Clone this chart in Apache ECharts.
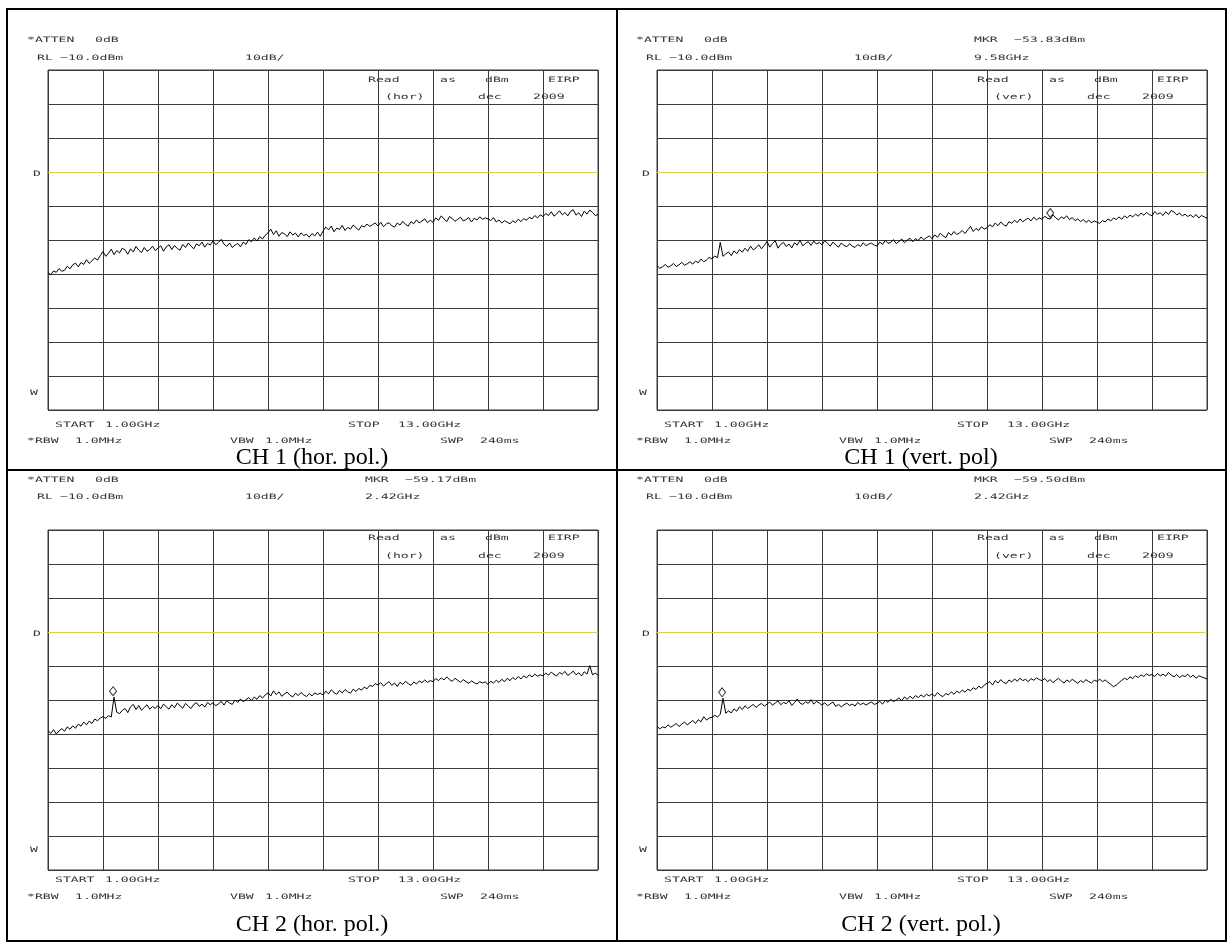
<!DOCTYPE html>
<html><head><meta charset="utf-8">
<script src="https://cdn.jsdelivr.net/npm/echarts/dist/echarts.min.js"></script>
<style>html,body{margin:0;padding:0;background:#fff}#c{width:1231px;height:943px}</style>
</head><body><div id="c"></div>
<script>
// ---------- data ----------
const START_GHZ = 1.0, STOP_GHZ = 13.0, N_POINTS = 201;
const REF_LEVEL = -10, DB_PER_DIV = 10, N_DIV = 10, DISPLAY_LINE = -40;
const RBW = '1.0MHz', VBW = '1.0MHz', SWP = '240ms', ATTEN = '0dB';
const FREQ = Array.from({length: N_POINTS}, (_, k) => +(START_GHZ + k * (STOP_GHZ - START_GHZ) / (N_POINTS - 1)).toFixed(3));
const LEVEL_TICKS = Array.from({length: N_DIV + 1}, (_, k) => REF_LEVEL - (N_DIV - k) * DB_PER_DIV);

const CH1_HOR = [
-69.6,-70.2,-69.1,-69.5,-68.4,-69.2,-68.9,-67.7,-68.5,-67.3,-66.8,-67.9,-66.6,-67.2,-65.8,-66.9,-66.1,-65.3,-65.9,-64.6,
-63.4,-64.8,-63.9,-62.7,-64.3,-63.1,-63.8,-62.4,-62.9,-64.2,-62.6,-63.5,-61.9,-63.0,-63.7,-62.2,-63.3,-62.8,-61.8,-63.1,
-62.4,-61.7,-63.3,-62.0,-61.4,-62.8,-61.6,-62.5,-63.0,-61.3,-62.2,-60.9,-61.8,-62.6,-61.1,-61.7,-60.6,-62.1,-61.0,-61.5,
-60.2,-61.4,-60.7,-59.8,-61.2,-61.9,-60.9,-62.2,-61.5,-61.0,-62.0,-60.6,-61.3,-59.9,-60.5,-59.4,-60.3,-59.0,-59.7,-58.6,
-57.9,-56.8,-58.4,-57.3,-58.9,-57.8,-58.2,-59.0,-57.6,-58.5,-58.0,-59.1,-57.9,-58.7,-58.3,-59.2,-58.1,-58.8,-57.7,-58.9,
-57.4,-56.2,-57.0,-55.9,-57.6,-56.5,-56.9,-55.7,-57.2,-56.3,-56.8,-55.6,-56.4,-57.1,-55.8,-56.2,-55.3,-56.0,-55.5,-55.0,
-55.9,-54.8,-56.1,-55.3,-54.9,-55.8,-56.2,-55.0,-55.6,-54.5,-55.4,-55.9,-54.6,-55.2,-54.1,-55.0,-54.4,-53.8,-54.9,-54.2,
-54.8,-53.5,-54.2,-52.9,-53.8,-54.6,-53.1,-53.7,-54.5,-53.9,-53.3,-54.4,-54.0,-53.4,-54.7,-53.6,-54.1,-53.2,-53.9,-53.5,
-53.8,-54.3,-53.4,-54.7,-54.1,-55.0,-54.3,-54.8,-55.2,-54.4,-54.9,-53.9,-54.6,-53.7,-54.2,-53.3,-53.8,-52.8,-53.5,-52.6,
-53.1,-52.2,-52.8,-51.7,-53.0,-52.3,-51.4,-52.6,-51.9,-52.9,-51.6,-51.1,-52.7,-52.0,-53.1,-51.5,-52.4,-51.2,-51.9,-52.8,
-52.5];

const CH1_VERT = [
-67.5,-68.3,-67.9,-67.2,-68.0,-67.6,-66.9,-67.8,-67.3,-66.6,-67.4,-67.0,-66.4,-67.1,-66.2,-66.7,-65.6,-66.4,-65.9,-65.1,
-65.6,-64.7,-65.2,-60.7,-64.8,-64.1,-63.5,-64.6,-63.2,-64.0,-62.8,-63.6,-62.4,-63.3,-61.8,-62.9,-62.3,-61.4,-62.6,-61.6,
-60.4,-62.1,-61.0,-60.2,-62.4,-61.3,-60.7,-61.9,-61.2,-62.3,-60.8,-61.5,-60.1,-61.7,-61.0,-60.5,-61.6,-60.3,-61.2,-60.7,
-61.4,-60.2,-61.0,-61.8,-60.6,-61.5,-62.1,-60.9,-61.6,-62.0,-61.1,-61.8,-62.2,-61.3,-61.9,-60.8,-61.7,-61.2,-60.9,-61.5,
-61.8,-60.6,-61.3,-60.1,-61.0,-60.7,-59.9,-61.1,-60.4,-59.7,-60.8,-60.0,-59.5,-60.5,-59.6,-60.2,-59.1,-59.9,-59.3,-58.8,
-59.6,-58.5,-59.2,-58.0,-58.8,-59.3,-57.8,-58.6,-57.5,-58.4,-57.9,-57.2,-58.1,-57.0,-56.0,-57.5,-56.6,-57.2,-56.1,-56.8,
-56.4,-55.5,-56.1,-55.0,-55.8,-54.7,-55.5,-55.9,-54.6,-55.1,-54.2,-54.9,-53.8,-54.6,-54.0,-53.6,-54.4,-53.3,-54.1,-53.5,
-53.9,-53.0,-53.6,-53.83,-52.6,-53.5,-54.1,-53.2,-53.7,-52.9,-54.0,-53.4,-54.3,-53.8,-54.6,-54.0,-54.8,-54.2,-54.9,-54.4,
-54.8,-55.1,-54.3,-54.7,-53.8,-54.4,-53.5,-54.0,-53.2,-53.9,-52.9,-53.5,-52.7,-53.2,-52.4,-53.0,-52.1,-52.7,-51.9,-52.5,
-52.9,-51.6,-52.4,-52.0,-52.8,-51.7,-52.5,-51.3,-51.8,-52.6,-52.1,-52.9,-52.4,-53.1,-52.6,-53.3,-52.5,-53.5,-52.8,-53.2,
-53.6];

const CH2_HOR = [
-69.0,-69.8,-68.7,-70.0,-69.1,-68.4,-69.2,-67.9,-68.6,-67.6,-68.3,-67.1,-67.7,-66.5,-67.3,-66.2,-66.9,-65.6,-66.1,-65.3,
-64.9,-65.4,-64.6,-65.0,-59.17,-63.6,-64.0,-63.1,-62.5,-63.7,-62.0,-61.3,-62.8,-61.6,-63.0,-62.2,-61.4,-62.7,-61.9,-62.5,
-61.6,-62.6,-61.2,-62.0,-62.7,-61.4,-62.3,-60.9,-61.7,-62.4,-61.0,-61.8,-62.5,-61.3,-60.8,-61.9,-61.2,-62.1,-60.7,-61.4,
-60.8,-61.7,-61.1,-60.4,-61.5,-60.2,-60.9,-61.3,-60.0,-60.7,-59.7,-60.5,-59.9,-59.3,-60.2,-59.1,-59.8,-58.7,-59.4,-58.5,
-57.9,-58.8,-57.3,-58.4,-57.6,-58.9,-58.2,-57.7,-58.6,-59.1,-58.0,-58.7,-57.8,-58.5,-59.0,-58.1,-58.8,-57.9,-58.4,-58.0,
-58.5,-57.4,-58.2,-57.0,-57.8,-58.3,-57.2,-57.9,-56.9,-57.6,-58.0,-56.8,-57.5,-56.6,-57.1,-56.2,-56.7,-55.7,-56.0,-55.2,
-55.6,-54.9,-55.9,-55.2,-54.6,-55.7,-55.0,-56.0,-54.8,-55.4,-54.5,-55.2,-55.7,-54.7,-55.3,-54.4,-54.9,-54.1,-54.8,-54.3,
-54.6,-53.7,-54.3,-53.5,-54.1,-53.2,-54.0,-54.5,-53.6,-54.2,-54.8,-54.0,-54.6,-55.1,-54.4,-54.9,-55.3,-54.6,-55.0,-54.7,
-55.4,-54.5,-55.0,-54.2,-54.8,-53.9,-54.6,-53.6,-54.3,-53.4,-54.0,-53.1,-53.8,-52.9,-53.5,-52.6,-53.2,-52.4,-53.0,-52.6,
-52.9,-52.1,-52.7,-51.8,-52.5,-52.9,-51.9,-52.4,-51.6,-52.8,-52.2,-51.5,-52.6,-52.0,-52.9,-51.7,-52.4,-49.9,-52.6,-52.1,
-52.7];

const CH2_VERT = [
-67.7,-68.5,-67.9,-68.2,-67.3,-68.0,-67.5,-66.9,-67.8,-67.1,-66.5,-67.3,-66.7,-66.0,-66.9,-65.8,-66.4,-64.9,-65.9,-65.3,
-65.1,-64.5,-65.0,-64.2,-59.5,-63.9,-63.2,-63.8,-62.6,-63.3,-62.0,-62.8,-61.7,-62.5,-61.9,-61.3,-62.2,-61.5,-61.0,-61.8,
-61.2,-60.6,-61.5,-60.9,-60.3,-61.4,-60.7,-61.1,-60.2,-61.6,-60.8,-59.7,-60.9,-61.3,-60.5,-61.0,-59.9,-61.2,-60.4,-60.9,
-61.5,-60.8,-61.7,-61.1,-60.6,-61.9,-61.3,-62.0,-61.4,-60.9,-61.6,-61.2,-61.8,-60.7,-61.4,-60.9,-61.5,-61.0,-60.6,-61.3,
-61.0,-60.4,-61.2,-60.1,-60.7,-59.8,-60.5,-60.0,-59.4,-60.2,-59.1,-59.8,-58.9,-59.6,-58.7,-59.3,-58.5,-59.1,-58.3,-58.8,
-58.2,-58.9,-57.8,-58.6,-59.0,-58.1,-58.5,-57.6,-58.3,-57.4,-57.9,-57.1,-57.7,-56.8,-57.3,-56.4,-56.9,-55.9,-56.5,-55.6,
-55.1,-54.6,-55.6,-54.3,-55.0,-54.0,-54.8,-55.2,-54.1,-54.7,-53.8,-54.5,-53.6,-54.3,-53.9,-54.6,-53.7,-54.2,-53.5,-54.0,
-54.3,-53.7,-54.6,-54.0,-54.9,-54.2,-53.6,-54.4,-55.0,-54.1,-54.7,-53.9,-54.5,-55.1,-54.3,-54.8,-54.0,-54.6,-55.0,-54.2,
-54.5,-53.9,-54.6,-54.1,-54.8,-55.4,-56.1,-55.6,-54.9,-54.2,-53.6,-54.0,-53.2,-53.7,-52.9,-53.4,-52.6,-53.1,-52.3,-52.8,
-52.5,-53.1,-52.2,-52.9,-52.4,-53.0,-51.9,-52.7,-53.2,-52.5,-53.4,-52.8,-53.1,-52.4,-53.3,-52.7,-53.6,-52.9,-53.2,-53.5,
-53.8];

// markers [GHz, dBm]
const MKR_CH1_VERT = [9.58, -53.83];
const MKR_CH2_HOR = [2.42, -59.17];
const MKR_CH2_VERT = [2.42, -59.50];

const CAPTIONS = ['CH 1 (hor. pol.)', 'CH 1 (vert. pol)', 'CH 2 (hor. pol.)', 'CH 2 (vert. pol.)'];
const POL_TAGS = ['(hor)', '(ver)', '(hor)', '(ver)'];
const TRACES = [CH1_HOR, CH1_VERT, CH2_HOR, CH2_VERT];
const MARKERS = [null, MKR_CH1_VERT, MKR_CH2_HOR, MKR_CH2_VERT];

// ---------- layout ----------
const GRID_W = 550, GRID_H = 340;
const GRID_COLOR = '#3a3a3a', DLINE_COLOR = '#d4d44e';
const ROWS = [
  {gy: 70,  y1: 40,  y2: 58,  yr: 80,  yh: 97,  yw: 393, ys: 425, yb: 441, yc: 458},
  {gy: 530, y1: 480, y2: 497, yr: 538, yh: 556, yw: 850, ys: 880, yb: 897, yc: 925}
];
const LAYOUT = [
  {ox: 0,   r: ROWS[0]},
  {ox: 609, r: ROWS[0]},
  {ox: 0,   r: ROWS[1]},
  {ox: 609, r: ROWS[1]}
];
const fmt = v => (v < 0 ? '\u2212' : '') + Math.abs(v).toFixed(2);
const yLineColors = LEVEL_TICKS.map(v => v === DISPLAY_LINE ? DLINE_COLOR : GRID_COLOR);

const chart = echarts.init(document.getElementById('c'), null, {renderer: 'canvas'});
const grids = [], xAxes = [], yAxes = [], series = [];
LAYOUT.forEach((L, i) => {
  grids.push({left: 48 + L.ox, top: L.r.gy, width: GRID_W, height: GRID_H, show: true,
    borderColor: GRID_COLOR, borderWidth: 1, backgroundColor: 'transparent', containLabel: false});
  xAxes.push({type: 'value', gridIndex: i, min: START_GHZ, max: STOP_GHZ, show: false, splitLine: {show: false}});
  xAxes.push({type: 'value', gridIndex: i, min: 0, max: N_DIV, interval: 1,
    axisLine: {show: false}, axisTick: {show: false}, axisLabel: {show: false},
    splitLine: {show: true, lineStyle: {color: GRID_COLOR, width: 1}}});
  yAxes.push({type: 'value', gridIndex: i, min: LEVEL_TICKS[0], max: REF_LEVEL, interval: DB_PER_DIV,
    axisLine: {show: false}, axisTick: {show: false}, axisLabel: {show: false}, z: 1,
    splitLine: {show: true, lineStyle: {color: yLineColors, width: 1}}});
  series.push({type: 'line', xAxisIndex: 2 * i, yAxisIndex: i, showSymbol: false, symbol: 'none',
    data: FREQ.map((f, k) => [f, TRACES[i][k]]), lineStyle: {color: '#000', width: 1}, z: 5});
  if (MARKERS[i]) {
    series.push({type: 'scatter', xAxisIndex: 2 * i, yAxisIndex: i, data: [MARKERS[i]], symbol: 'diamond',
      symbolSize: [7, 9], symbolOffset: [0, -6], z: 6,
      itemStyle: {color: '#fff', borderColor: '#000', borderWidth: 1}});
  }
});

chart.setOption({animation: false, backgroundColor: '#fff', grid: grids, xAxis: xAxes, yAxis: yAxes, series});

// ---------- texts & table ----------
const TF = {fontSize: 7.5, fontFamily: 'DejaVu Sans Mono', fill: '#333'};
function T(x, y, s) {
  return {type: 'text', x: x, y: y, scaleX: 1.75, silent: true, z: 100,
    style: Object.assign({text: s, x: 0, y: 0, align: 'left', verticalAlign: 'middle'}, TF)};
}
const G = [];
G.push({type: 'rect', shape: {x: 7, y: 9, width: 1219, height: 932}, style: {fill: 'none', stroke: '#000', lineWidth: 2}, silent: true, z: 50});
G.push({type: 'line', shape: {x1: 617, y1: 9, x2: 617, y2: 941}, style: {stroke: '#000', lineWidth: 2}, silent: true, z: 50});
G.push({type: 'line', shape: {x1: 7, y1: 470, x2: 1226, y2: 470}, style: {stroke: '#000', lineWidth: 2}, silent: true, z: 50});

const rl = (REF_LEVEL < 0 ? '\u2212' : '') + Math.abs(REF_LEVEL).toFixed(1) + 'dBm';
LAYOUT.forEach((L, i) => {
  const ox = L.ox, r = L.r;
  G.push(T(ox + 27, r.y1, '*ATTEN'), T(ox + 95, r.y1, ATTEN));
  G.push(T(ox + 37, r.y2, 'RL'), T(ox + 60, r.y2, rl), T(ox + 245, r.y2, DB_PER_DIV + 'dB/'));
  const m = MARKERS[i];
  if (m) {
    G.push(T(ox + 365, r.y1, 'MKR'), T(ox + 405, r.y1, fmt(m[1]) + 'dBm'), T(ox + 365, r.y2, m[0].toFixed(2) + 'GHz'));
  }
  G.push(T(ox + 368, r.yr, 'Read'), T(ox + 440, r.yr, 'as'), T(ox + 485, r.yr, 'dBm'), T(ox + 548, r.yr, 'EIRP'));
  G.push(T(ox + 385, r.yh, POL_TAGS[i]), T(ox + 478, r.yh, 'dec'), T(ox + 533, r.yh, '2009'));
  const dy = chart.convertToPixel({yAxisIndex: i}, DISPLAY_LINE);
  G.push(T(ox + 33, dy + 2, 'D'), T(ox + 30, r.yw, 'W'));
  G.push(T(ox + 55, r.ys, 'START'), T(ox + 105, r.ys, START_GHZ.toFixed(2) + 'GHz'),
         T(ox + 348, r.ys, 'STOP'), T(ox + 398, r.ys, STOP_GHZ.toFixed(2) + 'GHz'));
  G.push(T(ox + 27, r.yb, '*RBW'), T(ox + 75, r.yb, RBW), T(ox + 230, r.yb, 'VBW'),
         T(ox + 265, r.yb, VBW), T(ox + 440, r.yb, 'SWP'), T(ox + 480, r.yb, SWP));
  G.push({type: 'text', x: ox + 312, y: r.yc, silent: true, z: 100,
    style: {text: CAPTIONS[i], x: 0, y: 0, align: 'center', verticalAlign: 'middle',
      fontSize: 24, fontFamily: 'Liberation Serif', fill: '#000'}});
});
chart.setOption({graphic: G});
</script></body></html>
